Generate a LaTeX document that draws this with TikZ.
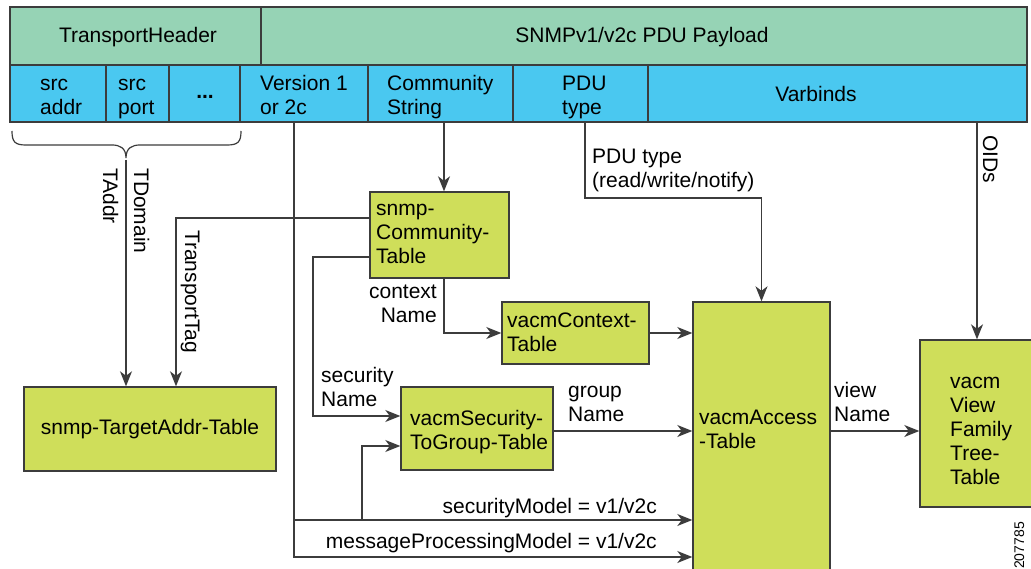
\documentclass[tikz,border=0pt]{standalone}
\usepackage{fontspec}
\setmainfont{Liberation Sans}
\usetikzlibrary{arrows.meta}
\definecolor{hdrgreen}{HTML}{96D3B5}
\definecolor{hdrblue}{HTML}{4AC8F0}
\definecolor{boxgreen}{HTML}{CFDE5A}
\definecolor{linegray}{HTML}{3C3C3C}
\begin{document}
\begin{tikzpicture}[x=1pt,y=-1pt,
  every node/.style={font=\fontsize{21}{24}\selectfont, inner sep=0pt},
  cell/.style={draw=linegray, line width=1.3pt, rectangle},
  hgreen/.style={cell, fill=hdrgreen},
  hblue/.style={cell, fill=hdrblue},
  tbl/.style={draw=linegray, line width=1.4pt, fill=boxgreen, rectangle},
  lbl/.style={align=left, anchor=base west},
  conn/.style={draw=linegray, line width=1.2pt},
  arr/.style={conn, -{Stealth[length=15pt,width=12pt,inset=4.5pt]}},
]
\useasboundingbox (0,0) rectangle (1031,569);
\clip (0,0) rectangle (1031,569);
\fill[white] (0,0) rectangle (1031,569);

% header
\node[hgreen, minimum width=251pt, minimum height=58pt] (th) at (135.5,36) {};
\node[hgreen, minimum width=766pt, minimum height=58pt] (pl) at (644,36) {};
\node[hblue, minimum width=96pt, minimum height=57pt] (sa) at (58,93.5) {};
\node[hblue, minimum width=63pt, minimum height=57pt] (sp) at (137.5,93.5) {};
\node[hblue, minimum width=71pt, minimum height=57pt] (dots) at (204.5,93.5) {};
\node[hblue, minimum width=128pt, minimum height=57pt] (ver) at (304,93.5) {};
\node[hblue, minimum width=145pt, minimum height=57pt] (cs) at (440.5,93.5) {};
\node[hblue, minimum width=135pt, minimum height=57pt] (pdu) at (580.5,93.5) {};
\node[hblue, minimum width=379pt, minimum height=57pt] (varb) at (837.5,93.5) {};

\node[anchor=base] (t-th) at (138,43) {TransportHeader};
\node[anchor=base] (t-pl) at (642,43) {SNMPv1/v2c PDU Payload};
\node[lbl] (t-sa) at (40,115) {src\\addr};
\node[lbl] (t-sp) at (118,115) {src\\port};
\node[anchor=base] (t-dots) at (205,99) {\bfseries ...};
\node[lbl] (t-ver) at (260,115) {Version 1\\or 2c};
\node[lbl] (t-cs) at (387,115) {Community\\String};
\node[lbl] (t-pdu) at (562,115) {PDU\\type};
\node[anchor=base] (t-varb) at (816,102) {Varbinds};

% tables
\node[tbl, minimum width=252pt, minimum height=84pt] (target) at (150,429) {snmp-TargetAddr-Table};
\node[tbl, minimum width=139pt, minimum height=86pt] (comm) at (439.5,235) {};
\node[tbl, minimum width=147pt, minimum height=62pt] (ctx) at (575.5,333) {};
\node[tbl, minimum width=152pt, minimum height=83pt] (s2g) at (477,428.5) {};
\node[tbl, minimum width=137pt, minimum height=308pt] (access) at (761.5,456) {};
\node[tbl, minimum width=114pt, minimum height=167pt] (view) at (977,423.5) {};

\node[lbl] (t-comm) at (376,264) {snmp-\\Community-\\Table};
\node[lbl] (t-ctx) at (507,352) {vacmContext-\\Table};
\node[lbl] (t-s2g) at (410,449) {vacmSecurity-\\ToGroup-Table};
\node[lbl] (t-acc) at (699,448) {vacmAccess\\-Table};
\node[lbl] (t-view) at (950,484) {vacm\\View\\Family\\Tree-\\Table};

% brace
\draw[conn] (12,131) .. controls (12,142) and (15,145) .. (26,145) -- (112,145)
  .. controls (120,145) and (126,148) .. (126,158)
  .. controls (126,148) and (132,145) .. (140,145) -- (227,145)
  .. controls (238,145) and (241,142) .. (241,131);
\coordinate (bt) at (126,160);

% helper coordinates
\coordinate (vtop) at ([xshift=-10pt]ver.south);
\coordinate (csb) at ([xshift=3.5pt]cs.south);
\coordinate (cb) at ([xshift=4.5pt]comm.south);
\coordinate (pb) at ([xshift=4.5pt]pdu.south);
\coordinate (ySM) at (0,520);
\coordinate (yMPM) at (0,557);
\coordinate (yGN) at (0,431);
\coordinate (yPDU) at (0,198);
\coordinate (j1) at (362,520);

% connectors
\draw[arr] (bt) -- (bt |- target.north);
\draw[arr] ([yshift=17pt]comm.west) -| ([xshift=26pt]target.north);
\draw[arr] (vtop) |- (access.west |- yMPM);
\draw[arr] (vtop |- ySM) -- (access.west |- ySM);
\draw[arr] (j1) |- ([yshift=-17.5pt]s2g.west);
\draw[arr] (csb) -- (csb |- comm.north);
\draw[arr] ([yshift=-22pt]comm.west) -- (313,257) |- ([yshift=12.5pt]s2g.west);
\draw[arr] (cb) |- (ctx.west);
\draw[arr] (ctx.east) -- (access.west |- ctx.east);
\draw[arr] (pb) -- (pb |- yPDU) -| (access.north);
\draw[arr] (varb.south -| view.north) -- (view.north);
\draw[arr] (s2g.east |- yGN) -- (access.west |- yGN);
\draw[arr] (access.east |- yGN) -- (view.west |- yGN);

% labels
\node[rotate=-90, anchor=base west] (l-tdom) at (134,168) {TDomain};
\node[rotate=-90, anchor=base west] (l-taddr) at (103,168) {TAddr};
\node[rotate=-90, anchor=base west] (l-ttag) at (185,230) {TransportTag};
\node[rotate=-90, anchor=base west] (l-oids) at (983,135) {OIDs};
\node[align=right, anchor=base east] (l-ctx) at (437,323) {context\\Name};
\node[lbl] (l-sec) at (321,406) {security\\Name};
\node[lbl] (l-grp) at (568,421) {group\\Name};
\node[lbl] (l-view) at (834,421) {view\\Name};
\node[lbl] (l-pdu) at (592,188) {PDU type\\(read/write/notify)};
\node[anchor=base east] (l-sm) at (657,513) {securityModel = v1/v2c};
\node[anchor=base east] (l-mpm) at (657,548) {messageProcessingModel = v1/v2c};
\node[rotate=90, anchor=base west, font=\fontsize{14}{16}\selectfont] (l-fig) at (1024,569) {207785};
\end{tikzpicture}
\end{document}
